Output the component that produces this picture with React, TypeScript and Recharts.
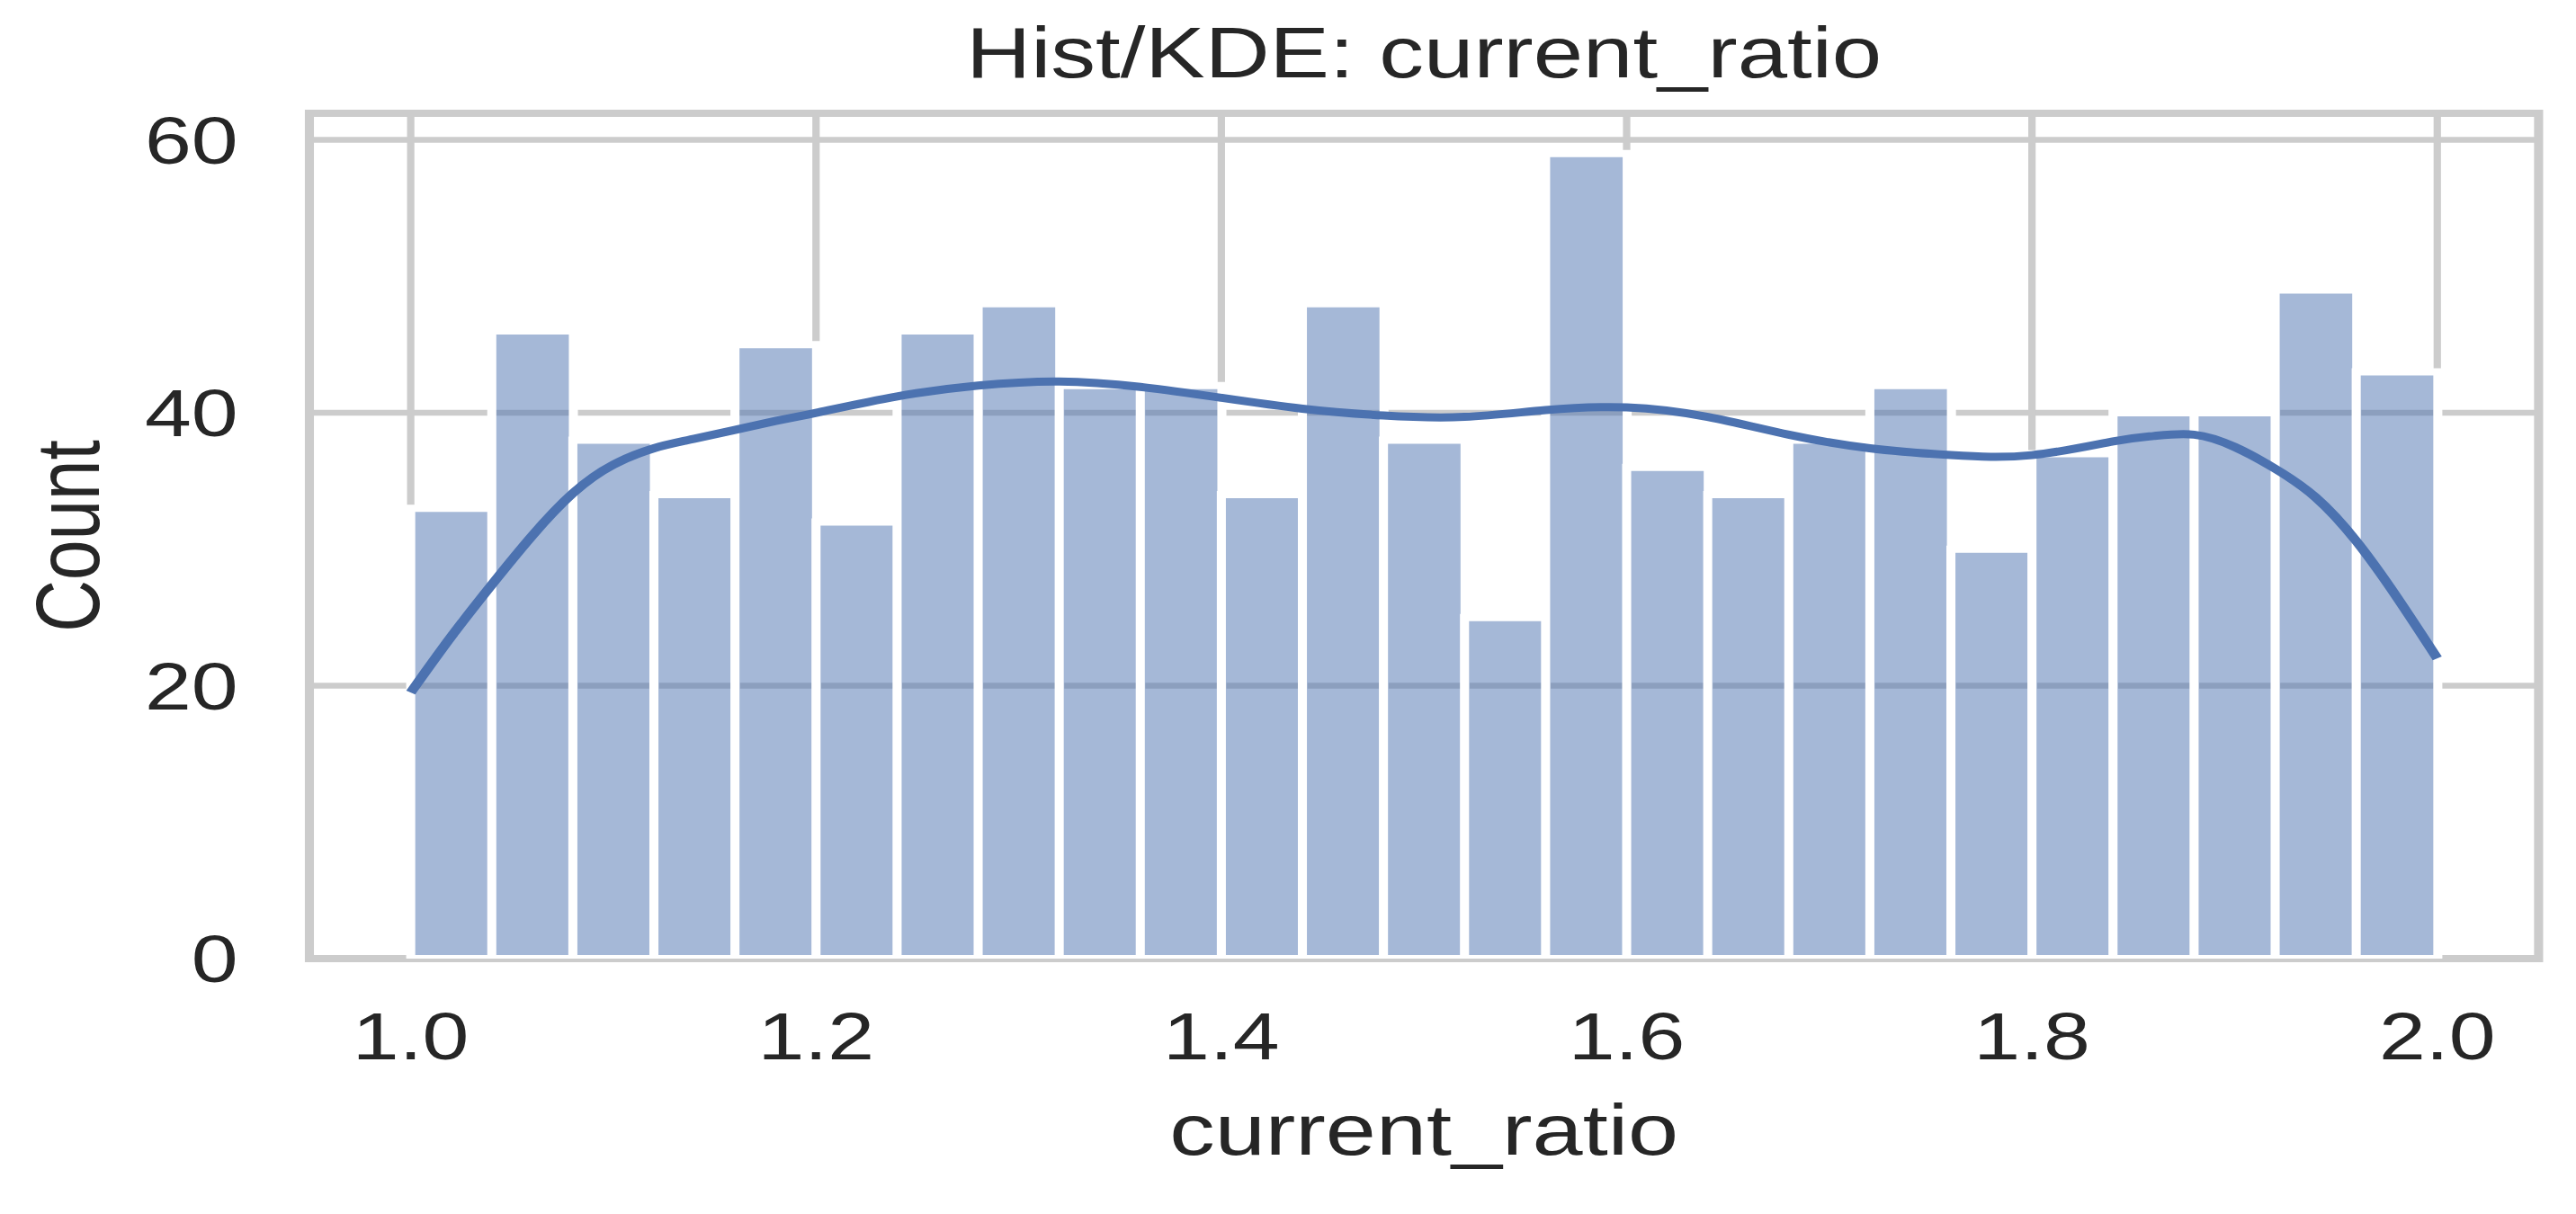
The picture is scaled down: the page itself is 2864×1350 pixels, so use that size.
import { ComposedChart, Bar, Line, XAxis, YAxis, CartesianGrid, ReferenceArea } from 'recharts'

// histogram bins (centres) and counts
const binCenters = [
  1.02, 1.06, 1.1, 1.14, 1.18, 1.22, 1.26, 1.3, 1.34, 1.38, 1.42, 1.46, 1.5,
  1.54, 1.58, 1.62, 1.66, 1.7, 1.74, 1.78, 1.82, 1.86, 1.9, 1.94, 1.98,
]
const counts = [33, 46, 38, 34, 45, 32, 46, 48, 42, 42, 34, 48, 38, 25, 59, 36, 34, 38, 42, 30, 37, 40, 40, 49, 43]

// kde curve
const kdeX = [
  1.0, 1.02, 1.04, 1.06, 1.08, 1.1, 1.12, 1.14, 1.18, 1.2, 1.24, 1.28, 1.32, 1.36, 1.4, 1.44, 1.48, 1.52,
  1.56, 1.6, 1.64, 1.68, 1.72, 1.76, 1.8, 1.84, 1.86, 1.88, 1.9, 1.92, 1.94, 1.96, 1.98, 2.0,
]
const kdeY = [
  19.5, 23.6, 27.4, 31.0, 34.1, 36.2, 37.4, 38.1, 39.4, 40.0, 41.2, 42.0, 42.3, 41.9, 41.1, 40.3, 39.8, 39.7,
  40.2, 40.4, 39.7, 38.4, 37.4, 36.9, 36.9, 37.9, 38.3, 38.4, 37.5, 35.9, 33.8, 30.6, 26.5, 22.0,
]

const xTicks = [1.0, 1.2, 1.4, 1.6, 1.8, 2.0]
const yTicks = [0, 20, 40, 60]

const X_DOMAIN: [number, number] = [0.95, 2.05]
const Y_DOMAIN: [number, number] = [0, 61.95]

// the reference picture is stretched sideways, so draw narrow and scale
const W = 2273
const H = 1350
const STRETCH = 2864 / W

const PLOT_LEFT = 273
const PLOT_RIGHT = 33
const PLOT_W = W - PLOT_LEFT - PLOT_RIGHT

const BLUE = '#4c72b0'
const GRID = '#cccccc'
const TEXT = '#262626'
const FONT = '"Liberation Sans", Arial, sans-serif'

export default function App() {
  const bars = binCenters.map((x, i) => ({ x, count: counts[i] }))
  const kde = kdeX.map((x, i) => ({ x, y: kdeY[i] }))

  return (
    <div style={{ position: 'absolute', left: 0, top: 0, width: 2864, height: H, overflow: 'hidden', background: '#fff' }}>
      <div
        style={{
          position: 'relative',
          width: W,
          height: H,
          transform: `scaleX(${STRETCH})`,
          transformOrigin: '0 0',
          fontFamily: FONT,
          color: TEXT,
        }}
      >
        <ComposedChart
          width={W}
          height={H}
          data={bars}
          margin={{ top: 126, right: PLOT_RIGHT, bottom: 0, left: 0 }}
          barCategoryGap={0}
          barGap={0}
        >
          <CartesianGrid xAxisId="main" stroke={GRID} strokeWidth={6.5} />
          <XAxis xAxisId="bins" type="number" dataKey="x" domain={X_DOMAIN} allowDataOverflow hide />
          <XAxis
            xAxisId="main"
            type="number"
            dataKey="x"
            domain={X_DOMAIN}
            allowDataOverflow
            ticks={xTicks}
            interval={0}
            tickFormatter={(v: number) => v.toFixed(1)}
            height={284}
            axisLine={false}
            tickLine={false}
            tickSize={0}
            tickMargin={29}
            tick={{ fontSize: 74, fill: TEXT, fontFamily: FONT }}
          />
          <YAxis
            type="number"
            domain={Y_DOMAIN}
            allowDataOverflow
            ticks={yTicks}
            interval={0}
            width={PLOT_LEFT}
            axisLine={false}
            tickLine={false}
            tickSize={0}
            tickMargin={63}
            tick={{ fontSize: 74, fill: TEXT, fontFamily: FONT }}
          />
          <Bar
            xAxisId="bins"
            dataKey="count"
            fill={BLUE}
            fillOpacity={0.5}
            stroke="#ffffff"
            strokeWidth={8}
            isAnimationActive={false}
          />
          <Line
            xAxisId="main"
            data={kde}
            dataKey="y"
            type="natural"
            stroke={BLUE}
            strokeWidth={9}
            dot={false}
            activeDot={false}
            isAnimationActive={false}
          />
          <ReferenceArea
            xAxisId="main"
            x1={X_DOMAIN[0]}
            x2={X_DOMAIN[1]}
            y1={Y_DOMAIN[0]}
            y2={Y_DOMAIN[1]}
            fill="none"
            stroke={GRID}
            strokeWidth={8}
            ifOverflow="visible"
          />
        </ComposedChart>

        <div
          style={{
            position: 'absolute',
            left: PLOT_LEFT,
            width: PLOT_W,
            top: 19,
            fontSize: 79,
            lineHeight: '79px',
            textAlign: 'center',
            whiteSpace: 'nowrap',
          }}
        >
          Hist/KDE: current_ratio
        </div>
        <div
          style={{
            position: 'absolute',
            left: PLOT_LEFT,
            width: PLOT_W,
            top: 1227,
            fontSize: 80,
            lineHeight: '60px',
            textAlign: 'center',
            whiteSpace: 'nowrap',
          }}
        >
          current_ratio
        </div>
        <div
          style={{
            position: 'absolute',
            left: 60 - 200,
            top: 596 - 30,
            width: 400,
            height: 60,
            fontSize: 80,
            lineHeight: '60px',
            textAlign: 'center',
            whiteSpace: 'nowrap',
            transform: 'rotate(-90deg)',
          }}
        >
          Count
        </div>
      </div>
    </div>
  )
}
